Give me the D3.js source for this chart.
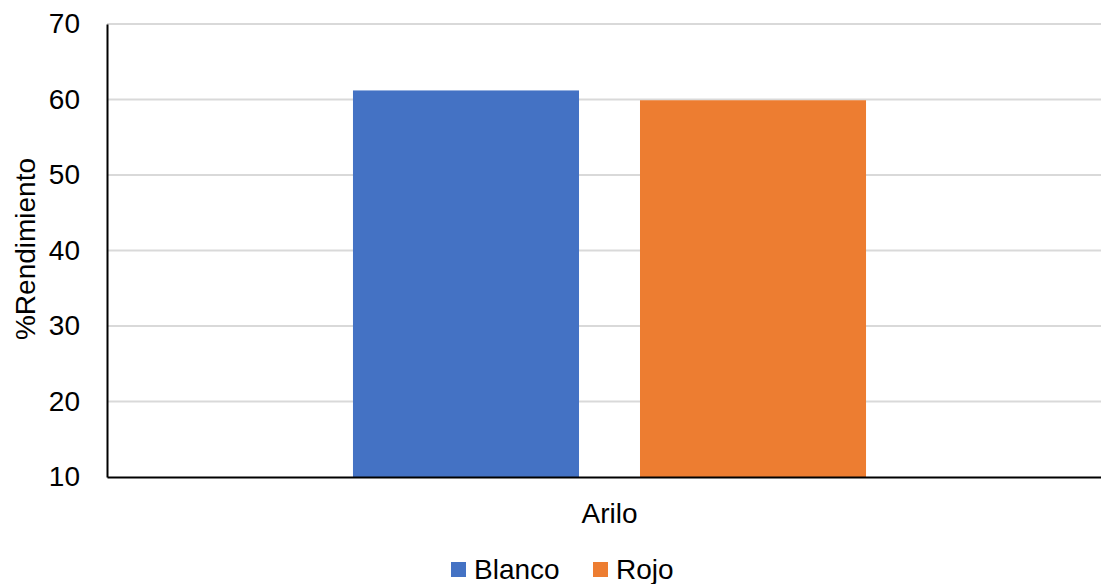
<!DOCTYPE html>
<html>
<head>
<meta charset="utf-8">
<script src="https://cdn.jsdelivr.net/npm/d3@7"></script>
<style>
  html, body { margin: 0; padding: 0; background: #fff; overflow: hidden; }
  svg { display: block; font-family: "Liberation Sans", Arial, sans-serif; }
</style>
</head>
<body>
<svg id="chart" width="1101" height="584"></svg>
<script>
// Yield by aril colour
const categories = ["Arilo"];
const seriesNames = ["Blanco", "Rojo"];
const blancoValues = [61.2];
const rojoValues = [59.9];
const seriesColors = ["#4472c4", "#ed7d31"];
const yTicks = [10, 20, 30, 40, 50, 60, 70];
const yTitle = "%Rendimiento";

const svg = d3.select("#chart");
const margin = { left: 107, top: 24, right: 1112, bottom: 477 };

const x = d3.scaleBand().domain(categories).range([margin.left, margin.right]).paddingInner(0).paddingOuter(0);
const xSeries = d3.scaleBand().domain(seriesNames).range([0, x.bandwidth()]).paddingInner(0.2125).paddingOuter(0.857);
const y = d3.scaleLinear().domain([10, 70]).range([margin.bottom, margin.top]);

// gridlines
svg.append("g")
  .selectAll("line")
  .data(yTicks.filter(d => d !== 10))
  .join("line")
  .attr("x1", margin.left).attr("x2", margin.right)
  .attr("y1", d => y(d)).attr("y2", d => y(d))
  .attr("stroke", "#d9d9d9").attr("stroke-width", 2);

// bars
const series = [blancoValues, rojoValues];
seriesNames.forEach((name, i) => {
  svg.append("g")
    .selectAll("rect")
    .data(categories.map((c, j) => ({ c, v: series[i][j] })))
    .join("rect")
    .attr("x", d => x(d.c) + xSeries(name))
    .attr("width", xSeries.bandwidth())
    .attr("y", d => y(d.v))
    .attr("height", d => y(10) - y(d.v))
    .attr("fill", seriesColors[i]);
});

// y axis
const yAxis = d3.axisLeft(y).tickValues(yTicks).tickSize(0).tickPadding(27);
const gy = svg.append("g").attr("transform", `translate(${margin.left},0)`).call(yAxis);
gy.select(".domain").attr("stroke", "#000").attr("stroke-width", 2);
gy.selectAll("text").attr("font-size", 28).attr("fill", "#000")
  .attr("font-family", "Liberation Sans, Arial, sans-serif");

// x axis
const xAxis = d3.axisBottom(x).tickSize(0).tickPadding(26);
const gx = svg.append("g").attr("transform", `translate(0,${margin.bottom})`).call(xAxis);
gx.select(".domain").attr("stroke", "#000").attr("stroke-width", 2);
gx.selectAll("text").attr("font-size", 28).attr("fill", "#000")
  .attr("font-family", "Liberation Sans, Arial, sans-serif");

// y axis title
svg.append("text")
  .attr("transform", "translate(35,249) rotate(-90)")
  .attr("text-anchor", "middle")
  .attr("font-size", 28)
  .attr("fill", "#000")
  .text(yTitle);

// legend
const legendX = [451, 593];
const legend = svg.append("g");
seriesNames.forEach((name, i) => {
  legend.append("rect")
    .attr("x", legendX[i]).attr("y", 562)
    .attr("width", 15).attr("height", 15)
    .attr("fill", seriesColors[i]);
  legend.append("text")
    .attr("x", legendX[i] + 23).attr("y", 579)
    .attr("font-size", 28).attr("fill", "#000")
    .text(name);
});
</script>
</body>
</html>
